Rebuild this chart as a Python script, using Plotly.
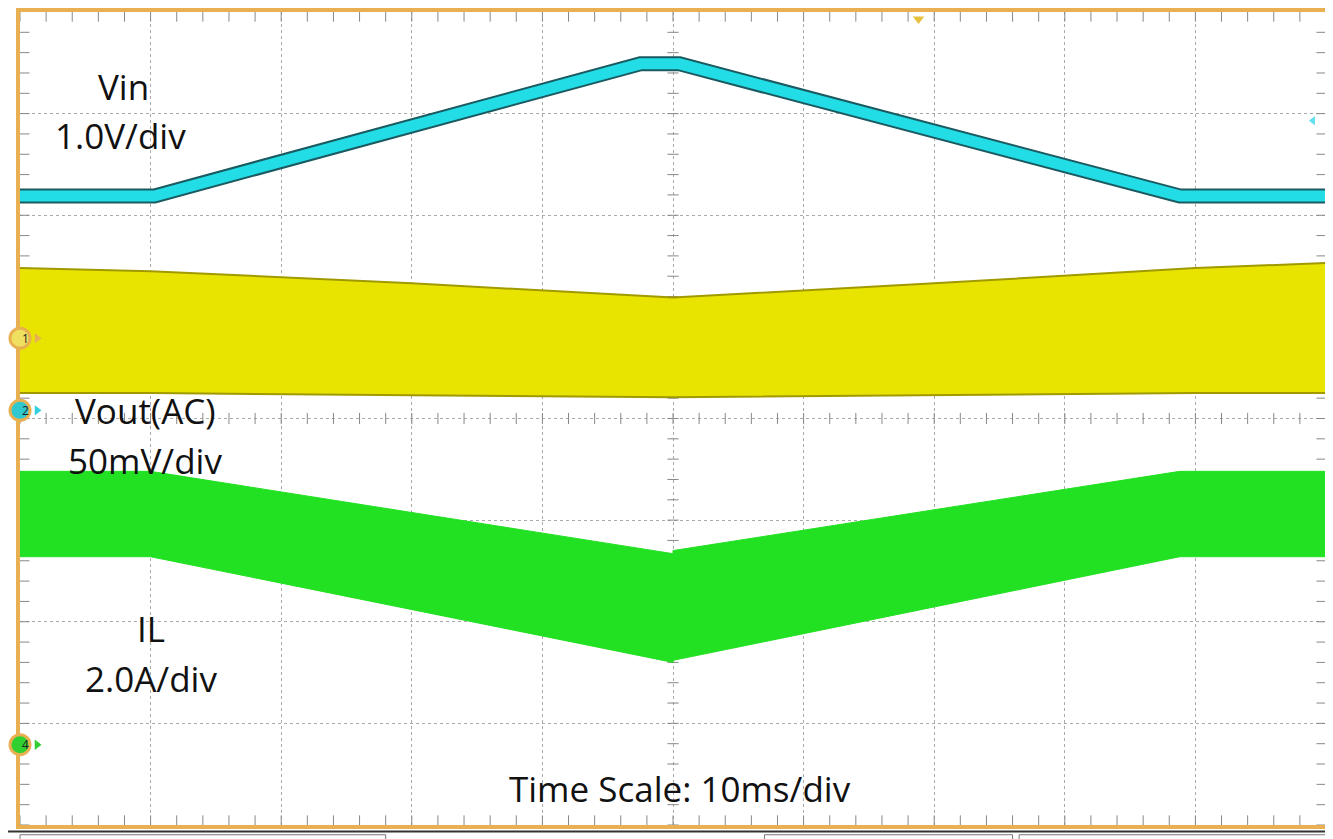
import numpy as np
import plotly.graph_objects as go

# time in divisions (0..10), amplitude in divisions (-4..4)
vin_t = [0, 1.03, 4.75, 5.05, 8.88, 10]
vin_v = [2.19, 2.19, 3.49, 3.49, 2.19, 2.19]

vout_t = [0, 1.0, 3.0, 5.0, 7.0, 9.0, 10]
vout_top = [1.48, 1.45, 1.33, 1.19, 1.33, 1.48, 1.53]
vout_bot = [0.25, 0.25, 0.23, 0.21, 0.23, 0.25, 0.25]

il_t = [0, 1.0, 5.0, 5.0, 8.88, 10]
il_top = [-0.52, -0.52, -1.33, -1.30, -0.52, -0.52]
il_bot = [-1.36, -1.36, -2.40, -2.38, -1.36, -1.36]

fig = go.Figure()

mt = np.arange(0, 10.001, 0.2)
mv = np.arange(-4, 4.001, 0.2)
tick_col = "#888888"
def ticks(x, y, sym, size):
    fig.add_trace(go.Scatter(x=x, y=y, mode="markers", hoverinfo="skip",
                             marker=dict(symbol=sym, size=size, line=dict(width=1, color=tick_col))))
ticks(mt, [0]*len(mt), "line-ns", 8)
ticks([5]*len(mv), mv, "line-ew", 8)
ticks(mt, [-3.96]*len(mt), "line-ns", 8)
ticks(mt, [3.96]*len(mt), "line-ns", 8)
ticks([0.03]*len(mv), mv, "line-ew", 8)
ticks([9.97]*len(mv), mv, "line-ew", 8)

fig.add_trace(go.Scatter(x=vout_t + vout_t[::-1], y=vout_top + vout_bot[::-1], fill="toself",
                         fillcolor="#e8e400", line=dict(color="#a09a00", width=2), mode="lines", hoverinfo="skip"))
fig.add_trace(go.Scatter(x=il_t + il_t[::-1], y=il_top + il_bot[::-1], fill="toself",
                         fillcolor="#22e022", line=dict(color="#22e022", width=1), mode="lines", hoverinfo="skip"))
fig.add_trace(go.Scatter(x=vin_t, y=vin_v, mode="lines", line=dict(color="#1a5a60", width=15), hoverinfo="skip"))
fig.add_trace(go.Scatter(x=vin_t, y=vin_v, mode="lines", line=dict(color="#22dde6", width=11), hoverinfo="skip"))

# channel markers
ch_y = [0.79, 0.08, -3.21]
ch_lbl = ["1", "2", "4"]
ch_fill = ["#f0e060", "#30c8d0", "#30d030"]
ch_arrow = ["#e8b050", "#30d0e0", "#30d030"]
fig.add_trace(go.Scatter(x=[0.13]*3, y=ch_y, mode="markers", hoverinfo="skip",
                         marker=dict(symbol="triangle-right", size=9, color=ch_arrow)))
for y, l, c in zip(ch_y, ch_lbl, ch_fill):
    yp = (y + 4) / 8
    fig.add_shape(type="circle", xref="paper", yref="paper", xsizemode="pixel", ysizemode="pixel",
                  xanchor=0, yanchor=yp, x0=-10, x1=10, y0=-10, y1=10, layer="above",
                  fillcolor=c, line=dict(color="#e8b050", width=3))
    fig.add_annotation(xref="paper", yref="paper", x=0, y=yp, text=l, showarrow=False,
                       yanchor="middle", font=dict(size=12, color="#222"))
fig.add_trace(go.Scatter(x=[9.9], y=[2.93], mode="markers", marker=dict(symbol="triangle-left", size=8, color="#60e0f0"), hoverinfo="skip"))
fig.add_trace(go.Scatter(x=[6.88], y=[3.93], mode="markers", marker=dict(symbol="triangle-down", size=10, color="#e8c040"), cliponaxis=False, hoverinfo="skip"))

F = "Open Sans"
ann = [
    ("Vin", 0.79, 3.27), ("1.0V/div", 0.77, 2.78),
    ("Vout(AC)", 0.96, 0.08), ("50mV/div", 0.96, -0.41),
    ("IL", 1.0, -2.07), ("2.0A/div", 1.0, -2.56),
    ("Time Scale: 10ms/div", 5.05, -3.64),
]
for t, x, y in ann:
    fig.add_annotation(x=x, y=y, text=t, showarrow=False, font=dict(family=F, size=35, color="#111"))

ax = dict(dtick=1, showgrid=True, gridcolor="#aaaaaa", griddash="dot", gridwidth=1,
          zeroline=False, showticklabels=False, showline=True, linecolor="#e8b050", linewidth=4, mirror=True)
fig.update_xaxes(range=[0, 10], **ax)
fig.update_yaxes(range=[-4, 4], **ax)

fig.add_shape(type="rect", xref="paper", yref="paper", x0=-0.01, x1=1.01, y0=-0.03, y1=-0.008,
              line=dict(color="#333", width=2), fillcolor="white")
for a, b in [(0.0, 0.28), (0.57, 0.76), (0.765, 1.0)]:
    fig.add_shape(type="rect", xref="paper", yref="paper", x0=a, x1=b, y0=-0.03, y1=-0.012,
                  line=dict(color="#777", width=1), fillcolor="white")

fig.update_layout(width=1325, height=831, margin=dict(l=12, r=7, t=0, b=14), showlegend=False,
                  plot_bgcolor="white", paper_bgcolor="white")
fig.write_html("out.html")
